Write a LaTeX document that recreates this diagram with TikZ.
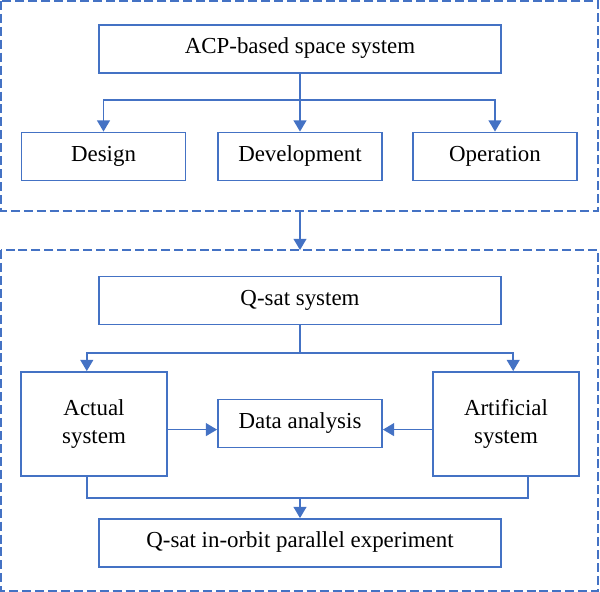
\documentclass[tikz,border=0pt]{standalone}
\usepackage{fontspec}
\setmainfont{Liberation Serif}
\usetikzlibrary{positioning,calc,arrows.meta}
\definecolor{qblue}{HTML}{4472C4}

\begin{document}
\begin{tikzpicture}[
  box/.style={draw=qblue, line width=1.3pt, fill=white,
             minimum height=1.2cm, align=center,
             font=\fontsize{16.3}{19.9}\selectfont},
  one/.style={text height=2.1ex, text depth=0.6ex},
  wide/.style={box, one, minimum width=10.05cm},
  small/.style={box, one, minimum width=4.1cm},
  tall/.style={box, minimum width=3.65cm, minimum height=2.6cm},
  frame/.style={draw=qblue, line width=1.5pt, dash pattern=on 6.4pt off 2.8pt},
  edge/.style={line width=1.2pt, qblue, -{Triangle[width=0.32cm,length=0.28cm]}},
  link/.style={line width=1.2pt, qblue},
]
\useasboundingbox (0,0) rectangle (15,-14.8);

% upper group
\draw[frame] (0.025,-0.025) rectangle (14.95,-5.275);
\node[wide]  (acp)  at (7.5,-1.225)     {ACP-based space system};
\node[small] (des)  at (2.5875,-3.9125) {Design};
\node[small] (dev)  at (7.5,-3.9125)    {Development};
\node[small] (ops)  at (12.375,-3.9125) {Operation};
\coordinate (split) at (7.5,-2.5);
\draw[link] (acp) -- (split);
\draw[edge] (split) -| (des);
\draw[edge] (split) -- (dev);
\draw[edge] (split) -| (ops);

% lower group
\draw[frame] (0.025,-6.25) rectangle (14.95,-14.775);
\coordinate (gtop) at (7.5,-5.275);
\coordinate (gbot) at (7.5,-6.25);
\draw[edge] (gtop) -- (gbot);

\node[wide]  (qsat) at (7.5,-7.5125)  {Q-sat system};
\node[tall]  (act)  at (2.35,-10.6)   {Actual\\system};
\node[tall]  (art)  at (12.65,-10.6)  {Artificial\\system};
\node[small] (data) at (7.5,-10.5875) {Data analysis};
\node[wide]  (exp)  at (7.5,-13.575)  {Q-sat in-orbit parallel experiment};

\coordinate (fork) at (7.5,-8.825);
\draw[link] (qsat) -- (fork);
\draw[edge] (fork) -| ([xshift=-0.18cm]act.north);
\draw[edge] (fork) -| ([xshift=0.18cm]art.north);

\draw[edge] ([yshift=-0.14cm]act.east) -- ([yshift=-0.14cm]act.east -| data.west);
\draw[edge] ([yshift=-0.14cm]art.west) -- ([yshift=-0.14cm]art.west -| data.east);

\coordinate (join) at (7.5,-12.45);
\draw[link] ([xshift=-0.18cm]act.south) |- (join);
\draw[link] ([xshift=0.55cm]art.south) |- (join);
\draw[edge] (join) -- (exp);
\end{tikzpicture}
\end{document}
